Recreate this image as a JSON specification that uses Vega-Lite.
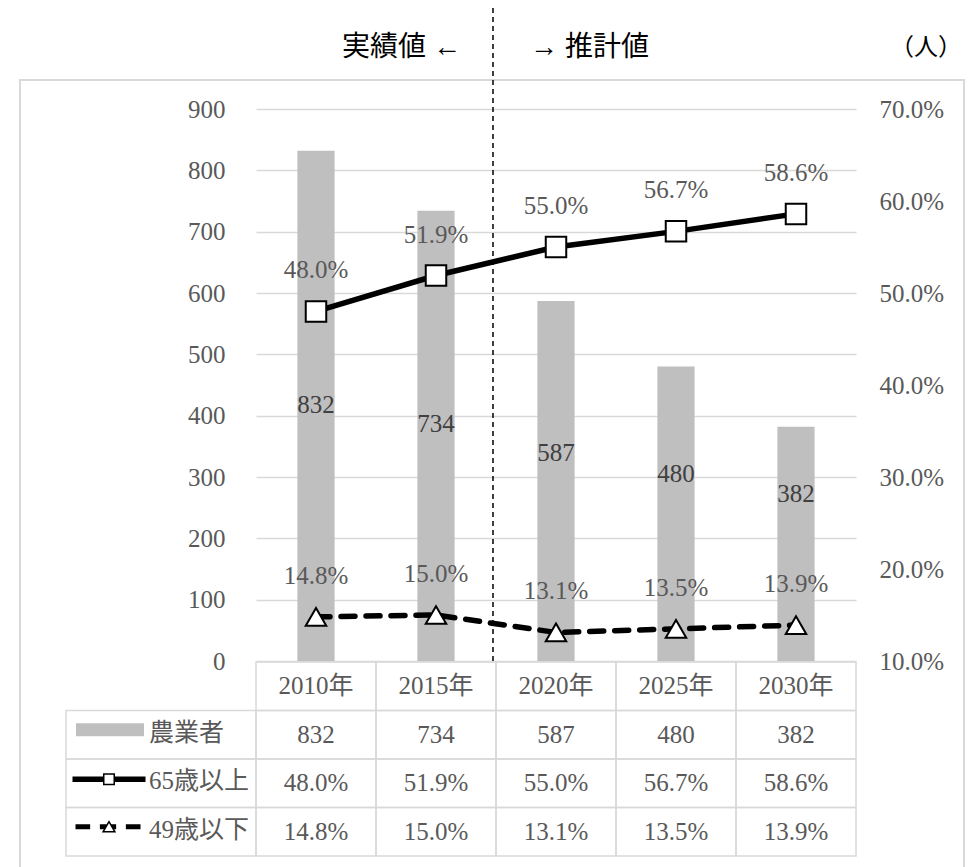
{
  "$schema": "https://vega.github.io/schema/vega-lite/v6.json",
  "width": 600,
  "height": 552,
  "autosize": {"type": "none"},
  "padding": {"left": 256, "top": 109, "right": 117, "bottom": 206},
  "background": "#ffffff",
  "config": {
    "view": {"stroke": null},
    "font": "Liberation Serif, Noto Sans CJK JP",
    "text": {"font": "Liberation Serif, Noto Sans CJK JP"},
    "axis": {"labelFont": "Liberation Serif, Noto Sans CJK JP"}
  },
  "datasets": {
    "main": [
      {"year": "2010年", "farmers": 832, "over65": 0.480, "under49": 0.148},
      {"year": "2015年", "farmers": 734, "over65": 0.519, "under49": 0.150},
      {"year": "2020年", "farmers": 587, "over65": 0.550, "under49": 0.131},
      {"year": "2025年", "farmers": 480, "over65": 0.567, "under49": 0.135},
      {"year": "2030年", "farmers": 382, "over65": 0.586, "under49": 0.139}
    ],
    "rows": [{"row": "農業者"}, {"row": "65歳以上"}, {"row": "49歳以下"}],
    "one": [{"item": "decor"}]
  },
  "data": {"name": "main"},
  "encoding": {
    "x": {"field": "year", "type": "nominal", "sort": null, "scale": {"domain": ["2010年", "2015年", "2020年", "2025年", "2030年"], "paddingInner": 0, "paddingOuter": 0}, "axis": null}
  },
  "resolve": {"scale": {"y": "independent"}},
  "layer": [
    {
      "data": {"name": "one"},
      "mark": {"type": "rect", "filled": false, "stroke": "#d9d9d9", "strokeWidth": 2, "clip": false, "xOffset": -236, "x2Offset": 108, "yOffset": -29, "y2Offset": 230},
      "encoding": {
        "x": {"datum": "2010年", "bandPosition": 0},
        "x2": {"datum": "2030年", "bandPosition": 1},
        "y": {"datum": 900, "type": "quantitative", "scale": {"domain": [0, 900], "nice": false}, "axis": null},
        "y2": {"datum": 0}
      }
    },
    {
      "mark": {"type": "bar", "color": "#bfbfbf", "width": {"band": 0.31}},
      "encoding": {
        "y": {"field": "farmers", "type": "quantitative", "scale": {"domain": [0, 900], "nice": false},
          "axis": {"orient": "left", "values": [0, 100, 200, 300, 400, 500, 600, 700, 800, 900], "grid": true, "gridColor": "#d9d9d9", "gridWidth": 1.5, "domain": false, "ticks": false, "labelPadding": 31, "labelFontSize": 25, "labelColor": "#595959", "title": null}}
      }
    },
    {
      "mark": {"type": "text", "font": "Liberation Serif, Noto Sans CJK JP", "fontSize": 25, "color": "#404040", "baseline": "middle"},
      "encoding": {
        "y": {"field": "farmers", "type": "quantitative", "scale": {"domain": [-471, 2341], "zero": false, "nice": false}, "axis": null},
        "text": {"field": "farmers", "type": "quantitative"}
      }
    },
    {
      "data": {"name": "one"},
      "mark": {"type": "rule", "color": "#000000", "strokeWidth": 1.5, "strokeDash": [5, 4], "clip": false, "xOffset": -3},
      "encoding": {
        "x": {"datum": "2015年", "bandPosition": 1},
        "y": {"datum": 0, "type": "quantitative", "scale": {"domain": [0, 900], "nice": false}, "axis": null},
        "y2": {"datum": 1070}
      }
    },
    {
      "data": {"name": "one"},
      "mark": {"type": "text", "text": "実績値 ←", "font": "Liberation Serif, Noto Sans CJK JP", "align": "right", "baseline": "middle", "dx": -35, "fontSize": 28, "color": "#000000", "clip": false},
      "encoding": {
        "x": {"datum": "2015年", "bandPosition": 1},
        "y": {"datum": 1000, "type": "quantitative", "scale": {"domain": [0, 900], "nice": false}, "axis": null}
      }
    },
    {
      "data": {"name": "one"},
      "mark": {"type": "text", "text": "→ 推計値", "font": "Liberation Serif, Noto Sans CJK JP", "align": "left", "baseline": "middle", "dx": 34, "fontSize": 28, "color": "#000000", "clip": false},
      "encoding": {
        "x": {"datum": "2015年", "bandPosition": 1},
        "y": {"datum": 1000, "type": "quantitative", "scale": {"domain": [0, 900], "nice": false}, "axis": null}
      }
    },
    {
      "data": {"name": "one"},
      "mark": {"type": "text", "text": "（人）", "font": "Liberation Serif, Noto Sans CJK JP", "align": "right", "baseline": "middle", "dx": 106, "fontSize": 24, "color": "#000000", "clip": false},
      "encoding": {
        "x": {"datum": "2030年", "bandPosition": 1},
        "y": {"datum": 1000, "type": "quantitative", "scale": {"domain": [0, 900], "nice": false}, "axis": null}
      }
    },
    {
      "mark": {"type": "line", "color": "#000000", "strokeWidth": 5.5},
      "encoding": {
        "y": {"field": "over65", "type": "quantitative", "scale": {"domain": [0.1, 0.7], "nice": false, "zero": false},
          "axis": {"orient": "right", "values": [0.1, 0.2, 0.3, 0.4, 0.5, 0.6, 0.7], "format": ".1%", "grid": false, "domain": false, "ticks": false, "labelPadding": 23, "labelFontSize": 25, "labelColor": "#595959", "title": null}}
      }
    },
    {
      "mark": {"type": "line", "color": "#000000", "strokeWidth": 5.5, "strokeDash": [14, 11], "strokeCap": "round"},
      "encoding": {
        "y": {"field": "under49", "type": "quantitative", "scale": {"domain": [0.1, 0.7], "nice": false, "zero": false}, "axis": null}
      }
    },
    {
      "mark": {"type": "point", "shape": "square", "filled": true, "fill": "#ffffff", "stroke": "#000000", "strokeWidth": 2, "size": 420, "opacity": 1},
      "encoding": {
        "y": {"field": "over65", "type": "quantitative", "scale": {"domain": [0.1, 0.7], "nice": false, "zero": false}, "axis": null}
      }
    },
    {
      "mark": {"type": "point", "shape": "triangle-up", "filled": true, "fill": "#ffffff", "stroke": "#000000", "strokeWidth": 2, "size": 420, "opacity": 1},
      "encoding": {
        "y": {"field": "under49", "type": "quantitative", "scale": {"domain": [0.1, 0.7], "nice": false, "zero": false}, "axis": null}
      }
    },
    {
      "mark": {"type": "text", "font": "Liberation Serif, Noto Sans CJK JP", "fontSize": 25, "color": "#595959", "baseline": "middle", "dy": -41},
      "encoding": {
        "y": {"field": "over65", "type": "quantitative", "scale": {"domain": [0.1, 0.7], "nice": false, "zero": false}, "axis": null},
        "text": {"field": "over65", "type": "quantitative", "format": ".1%"}
      }
    },
    {
      "mark": {"type": "text", "font": "Liberation Serif, Noto Sans CJK JP", "fontSize": 25, "color": "#595959", "baseline": "middle", "dy": -41},
      "encoding": {
        "y": {"field": "under49", "type": "quantitative", "scale": {"domain": [0.1, 0.7], "nice": false, "zero": false}, "axis": null},
        "text": {"field": "under49", "type": "quantitative", "format": ".1%"}
      }
    },
    {
      "encoding": {"y": {"datum": "hdr", "type": "nominal", "scale": {"type": "band", "domain": ["hdr", "農業者", "65歳以上", "49歳以下"], "range": [553, 747], "paddingInner": 0, "paddingOuter": 0}, "axis": null}},
      "layer": [
        {"mark": {"type": "rect", "filled": false, "stroke": "#d9d9d9", "strokeWidth": 1.5, "clip": false}},
        {"mark": {"type": "text", "font": "Liberation Serif, Noto Sans CJK JP", "fontSize": 25, "color": "#595959", "baseline": "middle", "clip": false}, "encoding": {"text": {"field": "year", "type": "nominal"}}}
      ]
    },
    {
      "encoding": {"y": {"datum": "農業者", "type": "nominal", "scale": {"type": "band", "domain": ["hdr", "農業者", "65歳以上", "49歳以下"], "range": [553, 747], "paddingInner": 0, "paddingOuter": 0}, "axis": null}},
      "layer": [
        {"mark": {"type": "rect", "filled": false, "stroke": "#d9d9d9", "strokeWidth": 1.5, "clip": false}},
        {"mark": {"type": "text", "font": "Liberation Serif, Noto Sans CJK JP", "fontSize": 25, "color": "#595959", "baseline": "middle", "clip": false}, "encoding": {"text": {"field": "farmers", "type": "quantitative"}}}
      ]
    },
    {
      "encoding": {"y": {"datum": "65歳以上", "type": "nominal", "scale": {"type": "band", "domain": ["hdr", "農業者", "65歳以上", "49歳以下"], "range": [553, 747], "paddingInner": 0, "paddingOuter": 0}, "axis": null}},
      "layer": [
        {"mark": {"type": "rect", "filled": false, "stroke": "#d9d9d9", "strokeWidth": 1.5, "clip": false}},
        {"mark": {"type": "text", "font": "Liberation Serif, Noto Sans CJK JP", "fontSize": 25, "color": "#595959", "baseline": "middle", "clip": false}, "encoding": {"text": {"field": "over65", "type": "quantitative", "format": ".1%"}}}
      ]
    },
    {
      "encoding": {"y": {"datum": "49歳以下", "type": "nominal", "scale": {"type": "band", "domain": ["hdr", "農業者", "65歳以上", "49歳以下"], "range": [553, 747], "paddingInner": 0, "paddingOuter": 0}, "axis": null}},
      "layer": [
        {"mark": {"type": "rect", "filled": false, "stroke": "#d9d9d9", "strokeWidth": 1.5, "clip": false}},
        {"mark": {"type": "text", "font": "Liberation Serif, Noto Sans CJK JP", "fontSize": 25, "color": "#595959", "baseline": "middle", "clip": false}, "encoding": {"text": {"field": "under49", "type": "quantitative", "format": ".1%"}}}
      ]
    },
    {
      "data": {"name": "rows"},
      "encoding": {"y": {"field": "row", "type": "nominal", "scale": {"type": "band", "domain": ["hdr", "農業者", "65歳以上", "49歳以下"], "range": [553, 747], "paddingInner": 0, "paddingOuter": 0}, "axis": null}},
      "layer": [
        {"mark": {"type": "rect", "filled": false, "stroke": "#d9d9d9", "strokeWidth": 1.5, "clip": false, "xOffset": -190},
          "encoding": {"x": {"datum": "2010年", "bandPosition": 0}, "x2": {"datum": "2010年", "bandPosition": 0}}},
        {"mark": {"type": "text", "font": "Liberation Serif, Noto Sans CJK JP", "align": "left", "baseline": "middle", "fontSize": 25, "color": "#595959", "xOffset": -107, "yOffset": -2, "clip": false},
          "encoding": {"x": {"datum": "2010年", "bandPosition": 0}, "text": {"field": "row", "type": "nominal"}}}
      ]
    },
    {
      "data": {"name": "one"},
      "encoding": {
        "x": {"datum": "2010年", "bandPosition": 0},
        "y": {"datum": "農業者", "type": "nominal", "scale": {"type": "band", "domain": ["hdr", "農業者", "65歳以上", "49歳以下"], "range": [553, 747], "paddingInner": 0, "paddingOuter": 0}, "axis": null}
      },
      "layer": [
        {"mark": {"type": "point", "shape": "M-1,-0.19H1V0.19H-1Z", "size": 4624, "filled": true, "fill": "#bfbfbf", "strokeWidth": 0, "opacity": 1, "xOffset": -146, "yOffset": -5, "clip": false}}
      ]
    },
    {
      "data": {"name": "one"},
      "encoding": {
        "x": {"datum": "2010年", "bandPosition": 0},
        "y": {"datum": "65歳以上", "type": "nominal", "scale": {"type": "band", "domain": ["hdr", "農業者", "65歳以上", "49歳以下"], "range": [553, 747], "paddingInner": 0, "paddingOuter": 0}, "axis": null}
      },
      "layer": [
        {"mark": {"type": "point", "shape": "M-1,-0.075H1V0.075H-1Z", "size": 5329, "filled": true, "fill": "#000000", "strokeWidth": 0, "opacity": 1, "xOffset": -147, "yOffset": -4, "clip": false}},
        {"mark": {"type": "point", "shape": "square", "size": 110, "filled": true, "fill": "#ffffff", "stroke": "#000000", "strokeWidth": 1.5, "opacity": 1, "xOffset": -147, "yOffset": -4, "clip": false}}
      ]
    },
    {
      "data": {"name": "one"},
      "encoding": {
        "x": {"datum": "2010年", "bandPosition": 0},
        "y": {"datum": "49歳以下", "type": "nominal", "scale": {"type": "band", "domain": ["hdr", "農業者", "65歳以上", "49歳以下"], "range": [553, 747], "paddingInner": 0, "paddingOuter": 0}, "axis": null}
      },
      "layer": [
        {"mark": {"type": "point", "shape": "M-1,-0.08H-0.55V0.08H-1Z M-0.25,-0.08H0.25V0.08H-0.25Z M0.55,-0.08H1V0.08H0.55Z", "size": 4225, "filled": true, "fill": "#000000", "strokeWidth": 0, "opacity": 1, "xOffset": -148, "yOffset": -5, "clip": false}},
        {"mark": {"type": "point", "shape": "triangle-up", "size": 140, "filled": true, "fill": "#ffffff", "stroke": "#000000", "strokeWidth": 1.5, "opacity": 1, "xOffset": -147, "yOffset": -5, "clip": false}}
      ]
    }
  ]
}
